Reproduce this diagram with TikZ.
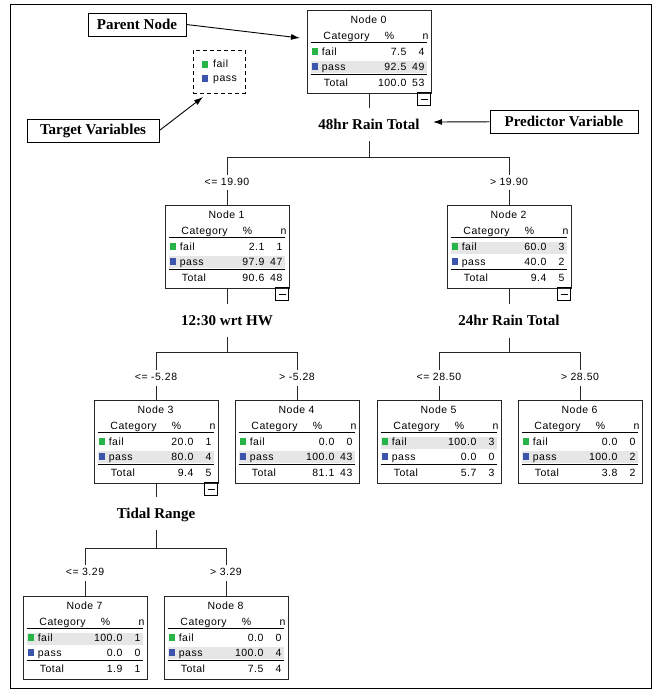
\documentclass[tikz,border=0pt]{standalone}
\usepackage{fontspec}
\setmainfont{Liberation Serif}
\newfontfamily\cartfont[LetterSpace=5]{Liberation Sans}
\usetikzlibrary{arrows.meta}

\definecolor{failgreen}{RGB}{40,180,70}
\definecolor{passblue}{RGB}{60,85,170}
\definecolor{rowshade}{RGB}{230,230,230}

\tikzset{
  cartbox/.style={draw=black!85, line width=0.8pt, minimum width=124pt, minimum height=83pt, inner sep=0pt},
  carttext/.style={font=\cartfont\fontsize{10.5}{12}\selectfont, inner sep=0pt},
  splitlabel/.style={font=\bfseries\fontsize{15}{18}\selectfont, text height=11pt, text depth=2pt, inner ysep=10pt, inner xsep=2pt},
  cutlabel/.style={carttext, text height=7.5pt, text depth=2pt, inner ysep=3pt},
  note/.style={draw, line width=0.8pt, font=\bfseries\fontsize{15}{18}\selectfont, minimum height=23pt, inner xsep=0pt},
  link/.style={line width=0.7pt, black!85},
  pointer/.style={line width=0.9pt, -{Latex[length=9pt,width=6pt]}},
}

% shaded row of a table: top of the band
\def\shadefail{37}
\def\shadepass{51}

% tree node: name, centre x, top y, number, shaded row
\newcommand\cartnode[5]{%
  \node[cartbox] (#1) at (#2,#3+41.5) {};
  \begin{scope}[shift={(#1.north west)}]
    \fill[rowshade] (4,\csname shade#5\endcsname) rectangle ++(116,12);
    \node[carttext, anchor=base] (#1t) at (62,14) {Node #4};
    \node[carttext, anchor=base] (#1h1) at (40,30) {Category};
    \node[carttext, anchor=base] (#1h2) at (83,30) {\%};
    \node[carttext, anchor=base] (#1h3) at (119,30) {n};
    \draw[line width=0.8pt] (4,33) -- (120,33);
    \fill[failgreen] (5,38) rectangle ++(6,7);
    \fill[passblue] (5,53) rectangle ++(6,7);
    \node[carttext, anchor=base west] (#1r1) at (15,46) {fail};
    \node[carttext, anchor=base west] (#1r2) at (15,61) {pass};
    \draw[line width=0.8pt] (4,65) -- (120,65);
    \node[carttext, anchor=base west] (#1r3) at (17,77) {Total};
  \end{scope}}

% values of a tree node: name, then % and n for fail, pass, total
\newcommand\cartvals[7]{%
  \begin{scope}[shift={(#1.north west)}]
    \node[carttext, anchor=base east] (#1p1) at (100,46) {#2};
    \node[carttext, anchor=base east] (#1n1) at (118,46) {#3};
    \node[carttext, anchor=base east] (#1p2) at (100,61) {#4};
    \node[carttext, anchor=base east] (#1n2) at (118,61) {#5};
    \node[carttext, anchor=base east] (#1p3) at (100,77) {#6};
    \node[carttext, anchor=base east] (#1n3) at (118,77) {#7};
  \end{scope}}

% collapse box under a split node
\newcommand\cartminus[1]{%
  \begin{scope}[shift={(#1.north west)}]
    \draw[line width=0.8pt] (111,83) rectangle (124,96);
    \draw[line width=0.8pt] (114,89.5) -- (121,89.5);
  \end{scope}}

\begin{document}
\begin{tikzpicture}[x=1pt,y=-1pt]
  \useasboundingbox (0,0) rectangle (652,689);
  % frame
  \draw[line width=1pt] (10,4) rectangle (651,688);

  % tree nodes
  \cartnode{n0}{369}{10}{0}{pass}
  \cartvals{n0}{7.5}{4}{92.5}{49}{100.0}{53}
  \cartminus{n0}
  \cartnode{n1}{227}{205}{1}{pass}
  \cartvals{n1}{2.1}{1}{97.9}{47}{90.6}{48}
  \cartminus{n1}
  \cartnode{n2}{509}{205}{2}{fail}
  \cartvals{n2}{60.0}{3}{40.0}{2}{9.4}{5}
  \cartminus{n2}
  \cartnode{n3}{156}{400}{3}{pass}
  \cartvals{n3}{20.0}{1}{80.0}{4}{9.4}{5}
  \cartminus{n3}
  \cartnode{n4}{297}{400}{4}{pass}
  \cartvals{n4}{0.0}{0}{100.0}{43}{81.1}{43}
  \cartnode{n5}{439}{400}{5}{fail}
  \cartvals{n5}{100.0}{3}{0.0}{0}{5.7}{3}
  \cartnode{n6}{580}{400}{6}{pass}
  \cartvals{n6}{0.0}{0}{100.0}{2}{3.8}{2}
  \cartnode{n7}{85}{596}{7}{fail}
  \cartvals{n7}{100.0}{1}{0.0}{0}{1.9}{1}
  \cartnode{n8}{226}{596}{8}{pass}
  \cartvals{n8}{0.0}{0}{100.0}{4}{7.5}{4}

  % predictor labels
  \node[splitlabel] (s0) at (369,124.5) {48hr Rain Total};
  \node[splitlabel] (s1) at (227,320.5) {12:30 wrt HW};
  \node[splitlabel] (s2) at (509,321) {24hr Rain Total};
  \node[splitlabel] (s3) at (156,513.5) {Tidal Range};

  % cut labels
  \node[cutlabel] (c1) at (227,182.5) {<= 19.90};
  \node[cutlabel] (c2) at (509,182.5) {> 19.90};
  \node[cutlabel] (c3) at (156,378) {<= -5.28};
  \node[cutlabel] (c4) at (297,378) {> -5.28};
  \node[cutlabel] (c5) at (439,378) {<= 28.50};
  \node[cutlabel] (c6) at (580,378) {> 28.50};
  \node[cutlabel] (c7) at (85,573) {<= 3.29};
  \node[cutlabel] (c8) at (226,573) {> 3.29};

  % junctions
  \coordinate (j0) at (369,157);
  \coordinate (j1) at (227,352);
  \coordinate (j2) at (509,352);
  \coordinate (j3) at (156,548);

  % branches
  \draw[link] (n0) -- (s0);
  \draw[link] (s0) -- (j0);
  \draw[link] (j0) -| (c1);
  \draw[link] (j0) -| (c2);
  \draw[link] (c1) -- (n1);
  \draw[link] (c2) -- (n2);
  \draw[link] (n1) -- (s1);
  \draw[link] (s1) -- (j1);
  \draw[link] (j1) -| (c3);
  \draw[link] (j1) -| (c4);
  \draw[link] (c3) -- (n3);
  \draw[link] (c4) -- (n4);
  \draw[link] (n2) -- (s2);
  \draw[link] (s2) -- (j2);
  \draw[link] (j2) -| (c5);
  \draw[link] (j2) -| (c6);
  \draw[link] (c5) -- (n5);
  \draw[link] (c6) -- (n6);
  \draw[link] (n3) -- (s3);
  \draw[link] (s3) -- (j3);
  \draw[link] (j3) -| (c7);
  \draw[link] (j3) -| (c8);
  \draw[link] (c7) -- (n7);
  \draw[link] (c8) -- (n8);

  % legend
  \node[draw, line width=0.8pt, dash pattern=on 4pt off 3pt, minimum width=52pt, minimum height=43pt] (legend) at (219,71.5) {};
  \fill[failgreen] (202,61) rectangle ++(6,7);
  \fill[passblue] (202,75) rectangle ++(6,7);
  \node[carttext, anchor=base west] (lfail) at (213,67) {fail};
  \node[carttext, anchor=base west] (lpass) at (213,81) {pass};

  % notes
  \node[note, minimum width=98pt] (parent) at (137,24.5) {Parent Node};
  \node[note, minimum width=132pt] (target) at (93,130.5) {Target Variables};
  \node[note, minimum width=148pt] (predictor) at (564,121.5) {Predictor Variable};
  \coordinate (parenttip) at (300,38);
  \coordinate (legendtip) at (203,97);
  \coordinate (predtip) at (433,122);
  \draw[pointer] (parent.east) -- (parenttip);
  \draw[pointer] (target.east) -- (legendtip);
  \draw[pointer] (predictor) -- (predtip);
\end{tikzpicture}
\end{document}
